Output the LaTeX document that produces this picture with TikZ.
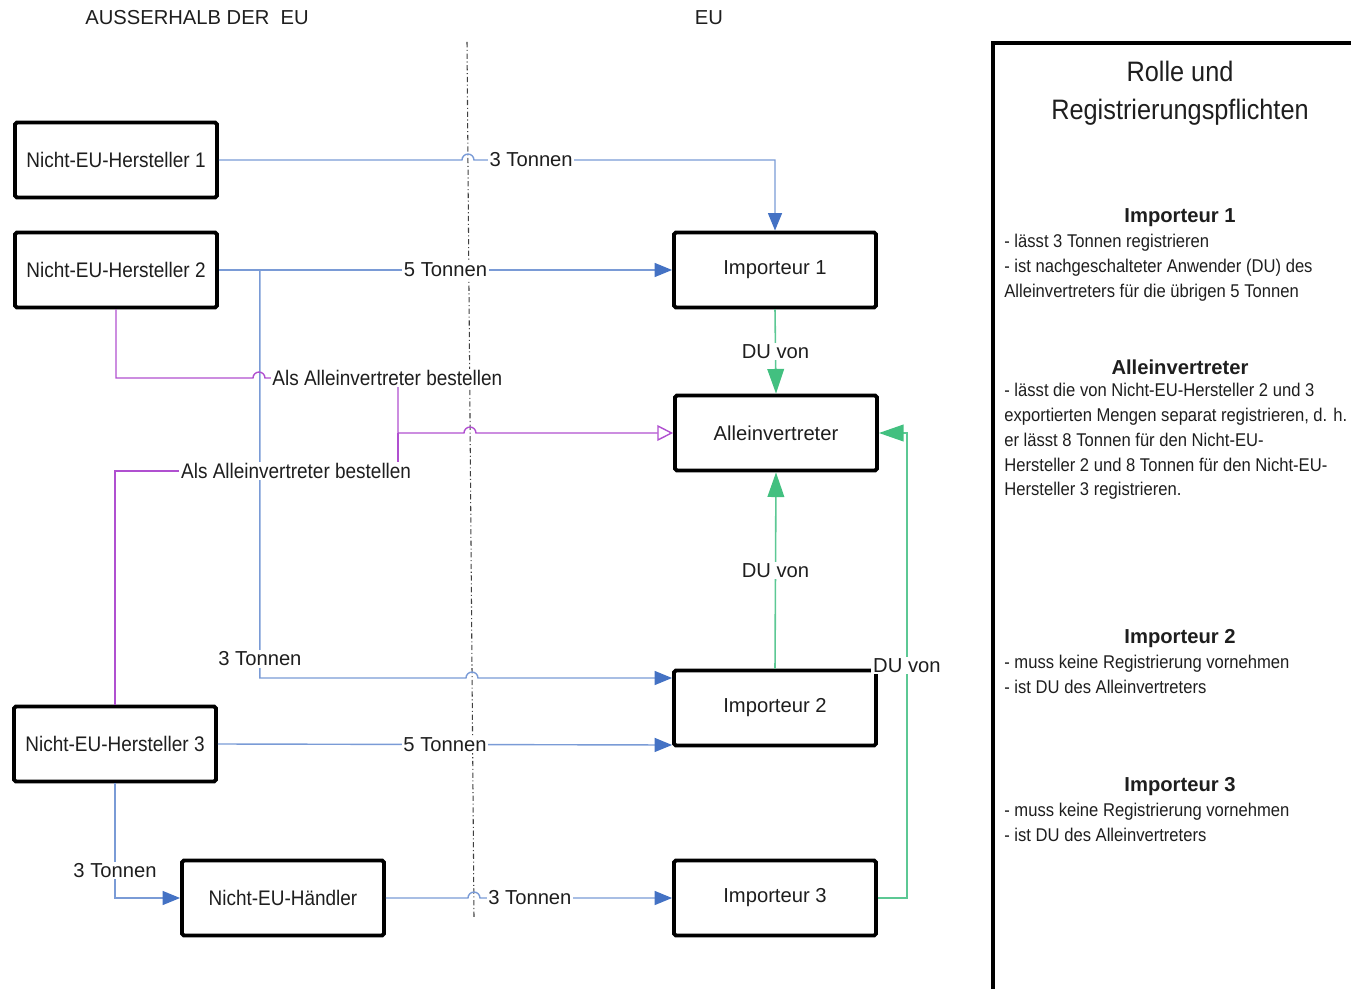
\documentclass[tikz,border=0pt]{standalone}
\usepackage{fontspec}
\setmainfont{Liberation Sans}
\newfontfamily\narrowfont[FakeStretch=0.9]{Liberation Sans}
\usepackage{tikz}
\usetikzlibrary{arrows.meta,positioning,calc}

\definecolor{lineblue}{RGB}{122,155,214}
\definecolor{tipblue}{RGB}{68,114,196}
\definecolor{avpurple}{RGB}{176,80,208}
\definecolor{dugreen}{RGB}{92,200,148}
\definecolor{tipgreen}{RGB}{66,192,128}
\definecolor{txt}{RGB}{30,30,30}

\begin{document}
\begin{tikzpicture}[
  x=0.02cm, y=-0.02cm,
  font=\fontsize{11.5}{13}\selectfont, text=txt,
  box/.style={draw=black, line width=2.2pt, rounded corners=1pt, minimum width=4.04cm, minimum height=1.5cm, inner sep=2pt},
  nbox/.style={box, font=\narrowfont\fontsize{12}{14}\selectfont},
  lab/.style={fill=white, inner sep=1pt, text=txt},
  nlab/.style={lab, font=\narrowfont\fontsize{12}{14}\selectfont},
  hop/.style={insert path={arc[start angle=180, end angle=0, radius=3.4pt]}},
  flowline/.style={draw=lineblue, line width=0.8pt},
  flow/.style={flowline, -{Triangle[length=10pt, width=8pt, color=tipblue]}},
  appoint/.style={draw=avpurple, line width=0.8pt},
  appointarrow/.style={appoint, -{Triangle[open, length=9pt, width=9pt]}},
  duarrow/.style={draw=dugreen, line width=0.9pt, -{Triangle[length=14pt, width=9.5pt, color=tipgreen]}},
  euline/.style={draw=black!75, line width=0.6pt, dash pattern=on 3pt off 1.5pt on 0.6pt off 1.5pt},
  head/.style={font=\bfseries\fontsize{11.5}{13}\selectfont},
  body/.style={anchor=north west, align=left, inner sep=0pt, font=\narrowfont\fontsize{10.5}{14.1}\selectfont},
]
\useasboundingbox (0,0) rectangle (1351,989);

% --- headers and EU border ---
\node (outside) at (197,18) {AUSSERHALB DER\ \ EU};
\node (inside) at (709,18) {EU};
\coordinate (eutop) at (467,42);
\coordinate (eubot) at (474,918);
\draw[euline] (eutop) -- (eubot);

% --- Left: outside the EU ---
\node[nbox] (h1) at (116,160) {Nicht-EU-Hersteller 1};
\node[nbox] (h2) at (116,270) {Nicht-EU-Hersteller 2};
\node[nbox] (h3) at (115,744) {Nicht-EU-Hersteller 3};
\node[nbox] (haendler) at (283,898) {Nicht-EU-Händler};

% --- Right: inside the EU ---
\node[box] (imp1) at (775,270) {Importeur 1};
\node[box] (av) at (776,433) {Alleinvertreter};
\node[box] (imp2) at (775,708) {Importeur 2};
\node[box] (imp3) at (775,898) {Importeur 3};

% --- blue: quantities ---
\draw[flow] (h1.east) -- (462,160) [hop] -- node[lab, pos=0.19] {3 Tonnen} (imp1.north |- h1.east) -- (imp1.north);
\draw[flow] (h2.east) -- node[lab] {5 Tonnen} (imp1.west);
\coordinate (split) at ($(h2.east)+(41,0)$);
\coordinate (imp2in) at ($(imp2.west)+(0,-30)$);
\draw[flow] (split) -- node[lab, pos=0.953] {3 Tonnen} (split |- imp2in) -- (466,678) [hop] -- (imp2in);
\draw[flow] (h3.east) -- node[lab] {5 Tonnen} ($(imp2.west)+(0,37)$);
\draw[flow] (h3.south) |- node[lab, pos=0.38] {3 Tonnen} (haendler.west);
\draw[flow] (haendler.east) -- (468,898) [hop] -- node[lab, pos=0.26] {3 Tonnen} (imp3.west);

% --- purple: appointment ---
\draw[appointarrow] (h2.south) |- (253,378) [hop] -- node[nlab, pos=0.92] {Als Alleinvertreter bestellen} (398,378) -- (398,433) -- (464,433) [hop] -- (av.west);
\draw[appoint] (h3.north) |- node[nlab, pos=0.82] {Als Alleinvertreter bestellen} (398,471) -- (398,433);

% --- green: downstream users ---
\draw[duarrow] (imp1.south) -- node[lab] {DU von} (av.north);
\draw[duarrow] (imp2.north) -- node[lab] {DU von} (av.south);
\coordinate (duright) at ($(av.east)+(28,0)$);
\draw[duarrow] (imp3.east) -| node[lab, pos=0.75] {DU von} (duright) -- (av.east);

% --- Right panel ---
\draw[line width=2.2pt] (1400,43) -- (993,43) -- (993,1040);
\node[font=\narrowfont\fontsize{16}{21.5}\selectfont, align=center] (title) at (1180,93) {Rolle und\\Registrierungspflichten};

\node[head] (himp1) at (1180,218) {Importeur 1};
\node[body] (bimp1) at (1004,234) {- lässt 3 Tonnen registrieren\\- ist nachgeschalteter Anwender (DU) des\\Alleinvertreters für die übrigen 5 Tonnen};

\node[head] (hav) at (1180,367) {Alleinvertreter};
\node[body] (bav) at (1004,383) {- lässt die von Nicht-EU-Hersteller 2 und 3\\exportierten Mengen separat registrieren, d. h.\\er lässt 8 Tonnen für den Nicht-EU-\\Hersteller 2 und 8 Tonnen für den Nicht-EU-\\Hersteller 3 registrieren.};

\node[head] (himp2) at (1180,639) {Importeur 2};
\node[body] (bimp2) at (1004,655) {- muss keine Registrierung vornehmen\\- ist DU des Alleinvertreters};

\node[head] (himp3) at (1180,787) {Importeur 3};
\node[body] (bimp3) at (1004,803) {- muss keine Registrierung vornehmen\\- ist DU des Alleinvertreters};

\end{tikzpicture}
\end{document}
